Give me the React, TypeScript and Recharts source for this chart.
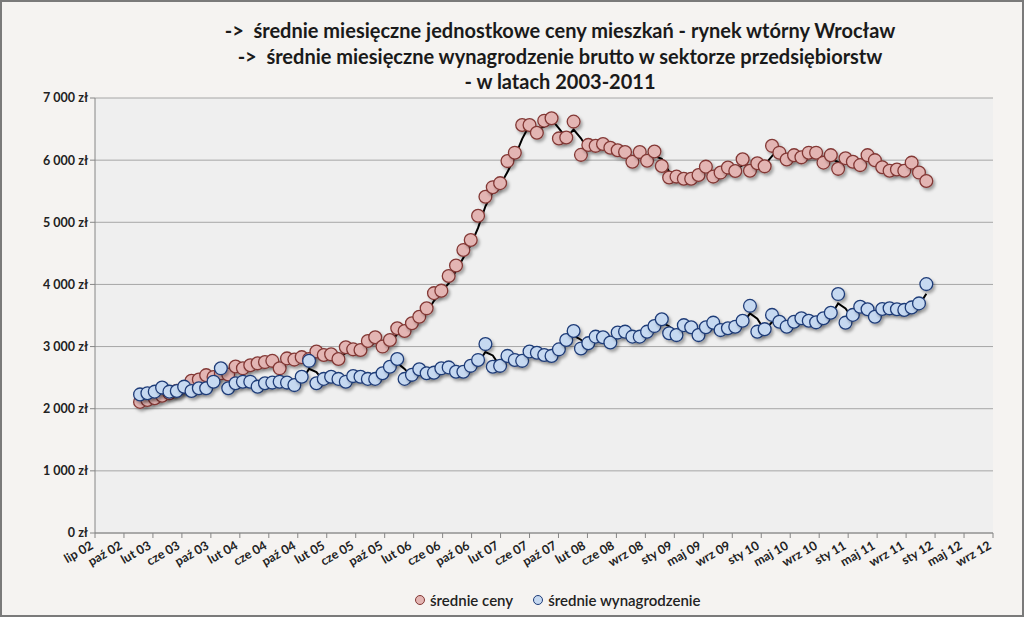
import React from 'react'
import { LineChart, Line, XAxis, YAxis, CartesianGrid } from 'recharts'

// monthly values, Jan 2003 .. Dec 2011
const ceny = [
  2110, 2140, 2170, 2210, 2250, 2290, 2350, 2450, 2470, 2540, 2510, 2570,
  2550, 2680, 2650, 2700, 2730, 2750, 2770, 2650, 2810, 2790, 2830, 2800,
  2920, 2865, 2875, 2800, 2990, 2955, 2945, 3090, 3150, 3000, 3105, 3295,
  3250, 3375, 3480, 3615, 3860, 3900, 4135, 4305, 4555, 4715, 5105, 5410,
  5565, 5630, 5985, 6120, 6565, 6565, 6440, 6635, 6675, 6350, 6365, 6620,
  6085, 6245, 6230, 6260, 6200, 6160, 6130, 5975, 6130, 5990, 6140, 5905,
  5720, 5735, 5700, 5700, 5760, 5895, 5735, 5800, 5880, 5825, 6015, 5830,
  5950, 5900, 6230, 6120, 6010, 6080, 6045, 6120, 6120, 5960, 6080, 5860,
  6030, 5975, 5920, 6080, 6000, 5885, 5830, 5850, 5830, 5960, 5800, 5665,
]

const wynagrodzenie = [
  2230, 2250, 2275, 2340, 2275, 2285, 2355, 2285, 2330, 2330, 2435, 2650,
  2330, 2410, 2435, 2435, 2355, 2410, 2420, 2435, 2420, 2380, 2515, 2770,
  2410, 2480, 2515, 2480, 2435, 2525, 2515, 2480, 2480, 2570, 2675, 2800,
  2480, 2545, 2635, 2570, 2580, 2650, 2665, 2595, 2595, 2690, 2785, 3040,
  2675, 2690, 2850, 2785, 2770, 2920, 2900, 2865, 2850, 2955, 3105, 3250,
  2970, 3055, 3160, 3150, 3065, 3225, 3240, 3160, 3160, 3240, 3330, 3440,
  3215, 3185, 3345, 3310, 3185, 3310, 3385, 3265, 3295, 3320, 3415, 3655,
  3240, 3280, 3510, 3400, 3320, 3400, 3455, 3415, 3390, 3455, 3545, 3845,
  3385, 3510, 3640, 3600, 3480, 3605, 3615, 3600, 3590, 3630, 3695, 4005,
]

const tickLabels = [
  'lip 02', 'paź 02', 'lut 03', 'cze 03', 'paź 03', 'lut 04', 'cze 04', 'paź 04',
  'lut 05', 'cze 05', 'paź 05', 'lut 06', 'cze 06', 'paź 06', 'lut 07', 'cze 07',
  'paź 07', 'lut 08', 'cze 08', 'wrz 08', 'sty 09', 'maj 09', 'wrz 09', 'sty 10',
  'maj 10', 'wrz 10', 'sty 11', 'maj 11', 'wrz 11', 'sty 12', 'maj 12', 'wrz 12',
]

const yTicks = [0, 1000, 2000, 3000, 4000, 5000, 6000, 7000]

const titleLines = [
  '->  średnie miesięczne jednostkowe ceny mieszkań - rynek wtórny Wrocław',
  '->  średnie miesięczne wynagrodzenie brutto w sektorze przedsiębiorstw',
  '- w latach 2003-2011',
]

// x axis in months from Jan 2003, axis ticks every ~120 days
const X_MIN = -6.13
const TICK_STEP = 3.942
const xTicks = tickLabels.map((_, i) => X_MIN + i * TICK_STEP)
const X_MAX = xTicks[xTicks.length - 1]

// moving average (2 periods), like the Excel trendline
const ma2 = (arr: number[], i: number) => (i === 0 ? null : (arr[i - 1] + arr[i]) / 2)

const data = ceny.map((c, i) => ({
  m: i,
  ceny: c,
  wyn: wynagrodzenie[i],
  cenyMA: ma2(ceny, i),
  wynMA: ma2(wynagrodzenie, i),
}))

const FONT = 'Lato, "Open Sans", sans-serif'

const RED_FILL = '#e3b5b3'
const RED_STROKE = '#833835'
const BLUE_FILL = '#c6d9f1'
const BLUE_STROKE = '#1f3c78'

const marker = (fill: string, stroke: string) => (p: any) => {
  if (p.cx == null || p.cy == null) return <g key={p.index} />
  return (
    <circle
      key={p.index}
      cx={p.cx}
      cy={p.cy}
      r={6.4}
      fill={fill}
      stroke={stroke}
      strokeWidth={1.3}
      filter="url(#mshadow)"
    />
  )
}

const XTick = (props: any) => {
  const { x, y, index } = props
  const ax = x - 1
  const ay = y + 8
  return (
    <text
      x={ax}
      y={ay}
      transform={`rotate(-30 ${ax} ${ay})`}
      textAnchor="end"
      fontFamily={FONT}
      fontWeight={700}
      fontSize={12.5}
      fill="#222"
    >
      {tickLabels[index]}
    </text>
  )
}

const yFormat = (v: number) => (v === 0 ? '0 zł' : `${v / 1000} 000 zł`)

export default function App() {
  return (
    <div
      style={{
        position: 'absolute',
        left: 0,
        top: 0,
        width: 1024,
        height: 617,
        background: '#f5f3f1',
        fontFamily: FONT,
        overflow: 'hidden',
      }}
    >
      <svg width={0} height={0} style={{ position: 'absolute' }}>
        <defs>
          <filter id="mshadow" x="-60%" y="-60%" width="220%" height="220%">
            <feDropShadow dx={2} dy={2.5} stdDeviation={1.4} floodColor="#000" floodOpacity={0.33} />
          </filter>
        </defs>
      </svg>

      <div
        style={{
          position: 'absolute',
          left: 110,
          width: 900,
          top: 18,
          textAlign: 'center',
          fontWeight: 700,
          fontSize: 20,
          lineHeight: '25.5px',
          color: '#1a1a1a',
          whiteSpace: 'pre',
        }}
      >
        {titleLines.map(t => (
          <div key={t}>{t}</div>
        ))}
      </div>

      <div style={{ position: 'absolute', left: 0, top: 0 }}>
        <LineChart
          width={1024}
          height={617}
          data={data}
          margin={{ top: 98, right: 31, bottom: 34, left: 0 }}
        >
          <CartesianGrid vertical={false} stroke="#a6a6a6" fill="#efefef" />
          <XAxis
            type="number"
            dataKey="m"
            domain={[X_MIN, X_MAX]}
            ticks={xTicks}
            interval={0}
            allowDataOverflow
            height={50}
            tick={<XTick />}
            tickSize={5}
            axisLine={{ stroke: '#868686' }}
            tickLine={{ stroke: '#868686' }}
          />
          <YAxis
            type="number"
            domain={[0, 7000]}
            ticks={yTicks}
            interval={0}
            width={95}
            tickFormatter={yFormat}
            tickSize={5}
            tick={{ fontFamily: FONT, fontWeight: 700, fontSize: 12.5, fill: '#222' }}
            axisLine={{ stroke: '#868686' }}
            tickLine={{ stroke: '#868686' }}
          />
          <Line
            dataKey="ceny"
            stroke="none"
            dot={marker(RED_FILL, RED_STROKE)}
            activeDot={false}
            isAnimationActive={false}
          />
          <Line
            dataKey="wyn"
            stroke="none"
            dot={marker(BLUE_FILL, BLUE_STROKE)}
            activeDot={false}
            isAnimationActive={false}
          />
          <Line
            type="linear"
            dataKey="cenyMA"
            stroke="#000"
            strokeWidth={2}
            dot={false}
            activeDot={false}
            isAnimationActive={false}
          />
          <Line
            type="linear"
            dataKey="wynMA"
            stroke="#000"
            strokeWidth={2}
            dot={false}
            activeDot={false}
            isAnimationActive={false}
          />
        </LineChart>
      </div>

      <div
        style={{
          position: 'absolute',
          top: 590,
          left: 415,
          display: 'flex',
          gap: 20,
          fontSize: 15,
          fontWeight: 600,
          color: '#222',
        }}
      >
        {[
          { name: 'średnie ceny', fill: RED_FILL, stroke: RED_STROKE },
          { name: 'średnie wynagrodzenie', fill: BLUE_FILL, stroke: BLUE_STROKE },
        ].map(s => (
          <div key={s.name} style={{ display: 'flex', alignItems: 'center', gap: 5 }}>
            <span
              style={{
                width: 10,
                height: 10,
                borderRadius: '50%',
                background: s.fill,
                border: `1.3px solid ${s.stroke}`,
                boxSizing: 'border-box',
                display: 'inline-block',
              }}
            />
            <span style={{ lineHeight: '20px' }}>{s.name}</span>
          </div>
        ))}
      </div>

      <div
        style={{
          position: 'absolute',
          inset: 0,
          border: '2px solid #7a7a7a',
          pointerEvents: 'none',
        }}
      />
    </div>
  )
}
